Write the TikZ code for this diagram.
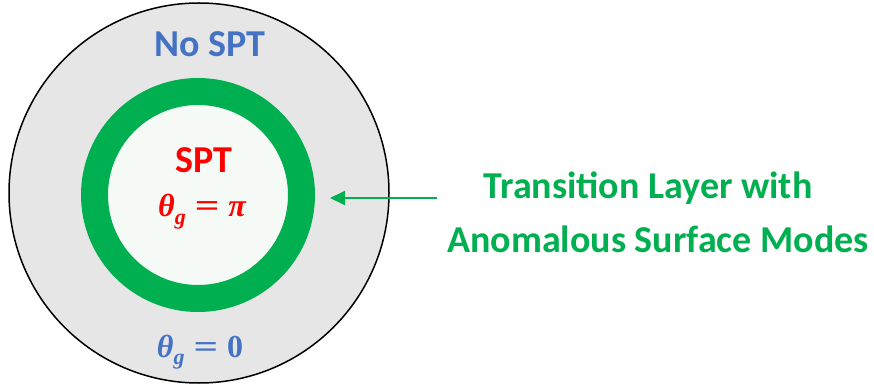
\documentclass[tikz,border=0pt]{standalone}
\usepackage{fontspec}
\setmainfont{Carlito}
\newfontfamily\mserif{Liberation Serif}
\usetikzlibrary{arrows.meta}
\definecolor{nblue}{HTML}{4472C4}
\definecolor{ngreen}{HTML}{00B050}
\definecolor{ngray}{HTML}{E6E6E6}
\definecolor{ninner}{HTML}{F5FAF7}
\newcommand{\thg}{{\itshape θ}\raisebox{-7pt}{\itshape\fontsize{22}{24}\selectfont g}}
\newcommand{\meq}{\hspace{0.28em}\scalebox{1.35}[1]{=}\hspace{0.28em}}
\tikzset{
  lbl/.style={font=\bfseries\fontsize{38}{42}\selectfont, inner sep=0pt},
  mth/.style={font=\mserif\bfseries\fontsize{32}{34}\selectfont, inner sep=0pt, anchor=base},
  side/.style={font=\bfseries\fontsize{38}{42}\selectfont, text=ngreen, inner sep=0pt, align=center},
  pointer/.style={draw=ngreen, line width=2pt, -{Triangle[length=15pt,width=14pt]}}
}
\begin{document}
\begin{tikzpicture}[x=1pt,y=-1pt]
\useasboundingbox (0,0) rectangle (874,387);
\node[circle, draw=black, line width=1.5pt, fill=ngray, minimum size=380pt, inner sep=0pt] (outer) at (199,193) {};
\node[circle, draw=ngreen, line width=27pt, fill=ninner, minimum size=207pt, inner sep=0pt] (ring) at (198,195) {};
\node[lbl, text=nblue] (nospt) at (210,44) {No SPT};
\node[lbl, text=red] (spt) at (204,160) {SPT};
\node[mth, text=red] (thpi) at (202,217) {\thg\meq{\itshape π}};
\node[mth, text=nblue] (thzero) at (200,357) {\thg\meq 0};
\node[side, anchor=base] (t1) at (648,199) {Transition Layer with};
\node[side, anchor=base] (t2) at (658,252) {Anomalous Surface Modes};
\coordinate (tail) at (437,198);
\draw[pointer] (tail) -- ([xshift=15pt]ring.east |- tail);
\end{tikzpicture}
\end{document}
